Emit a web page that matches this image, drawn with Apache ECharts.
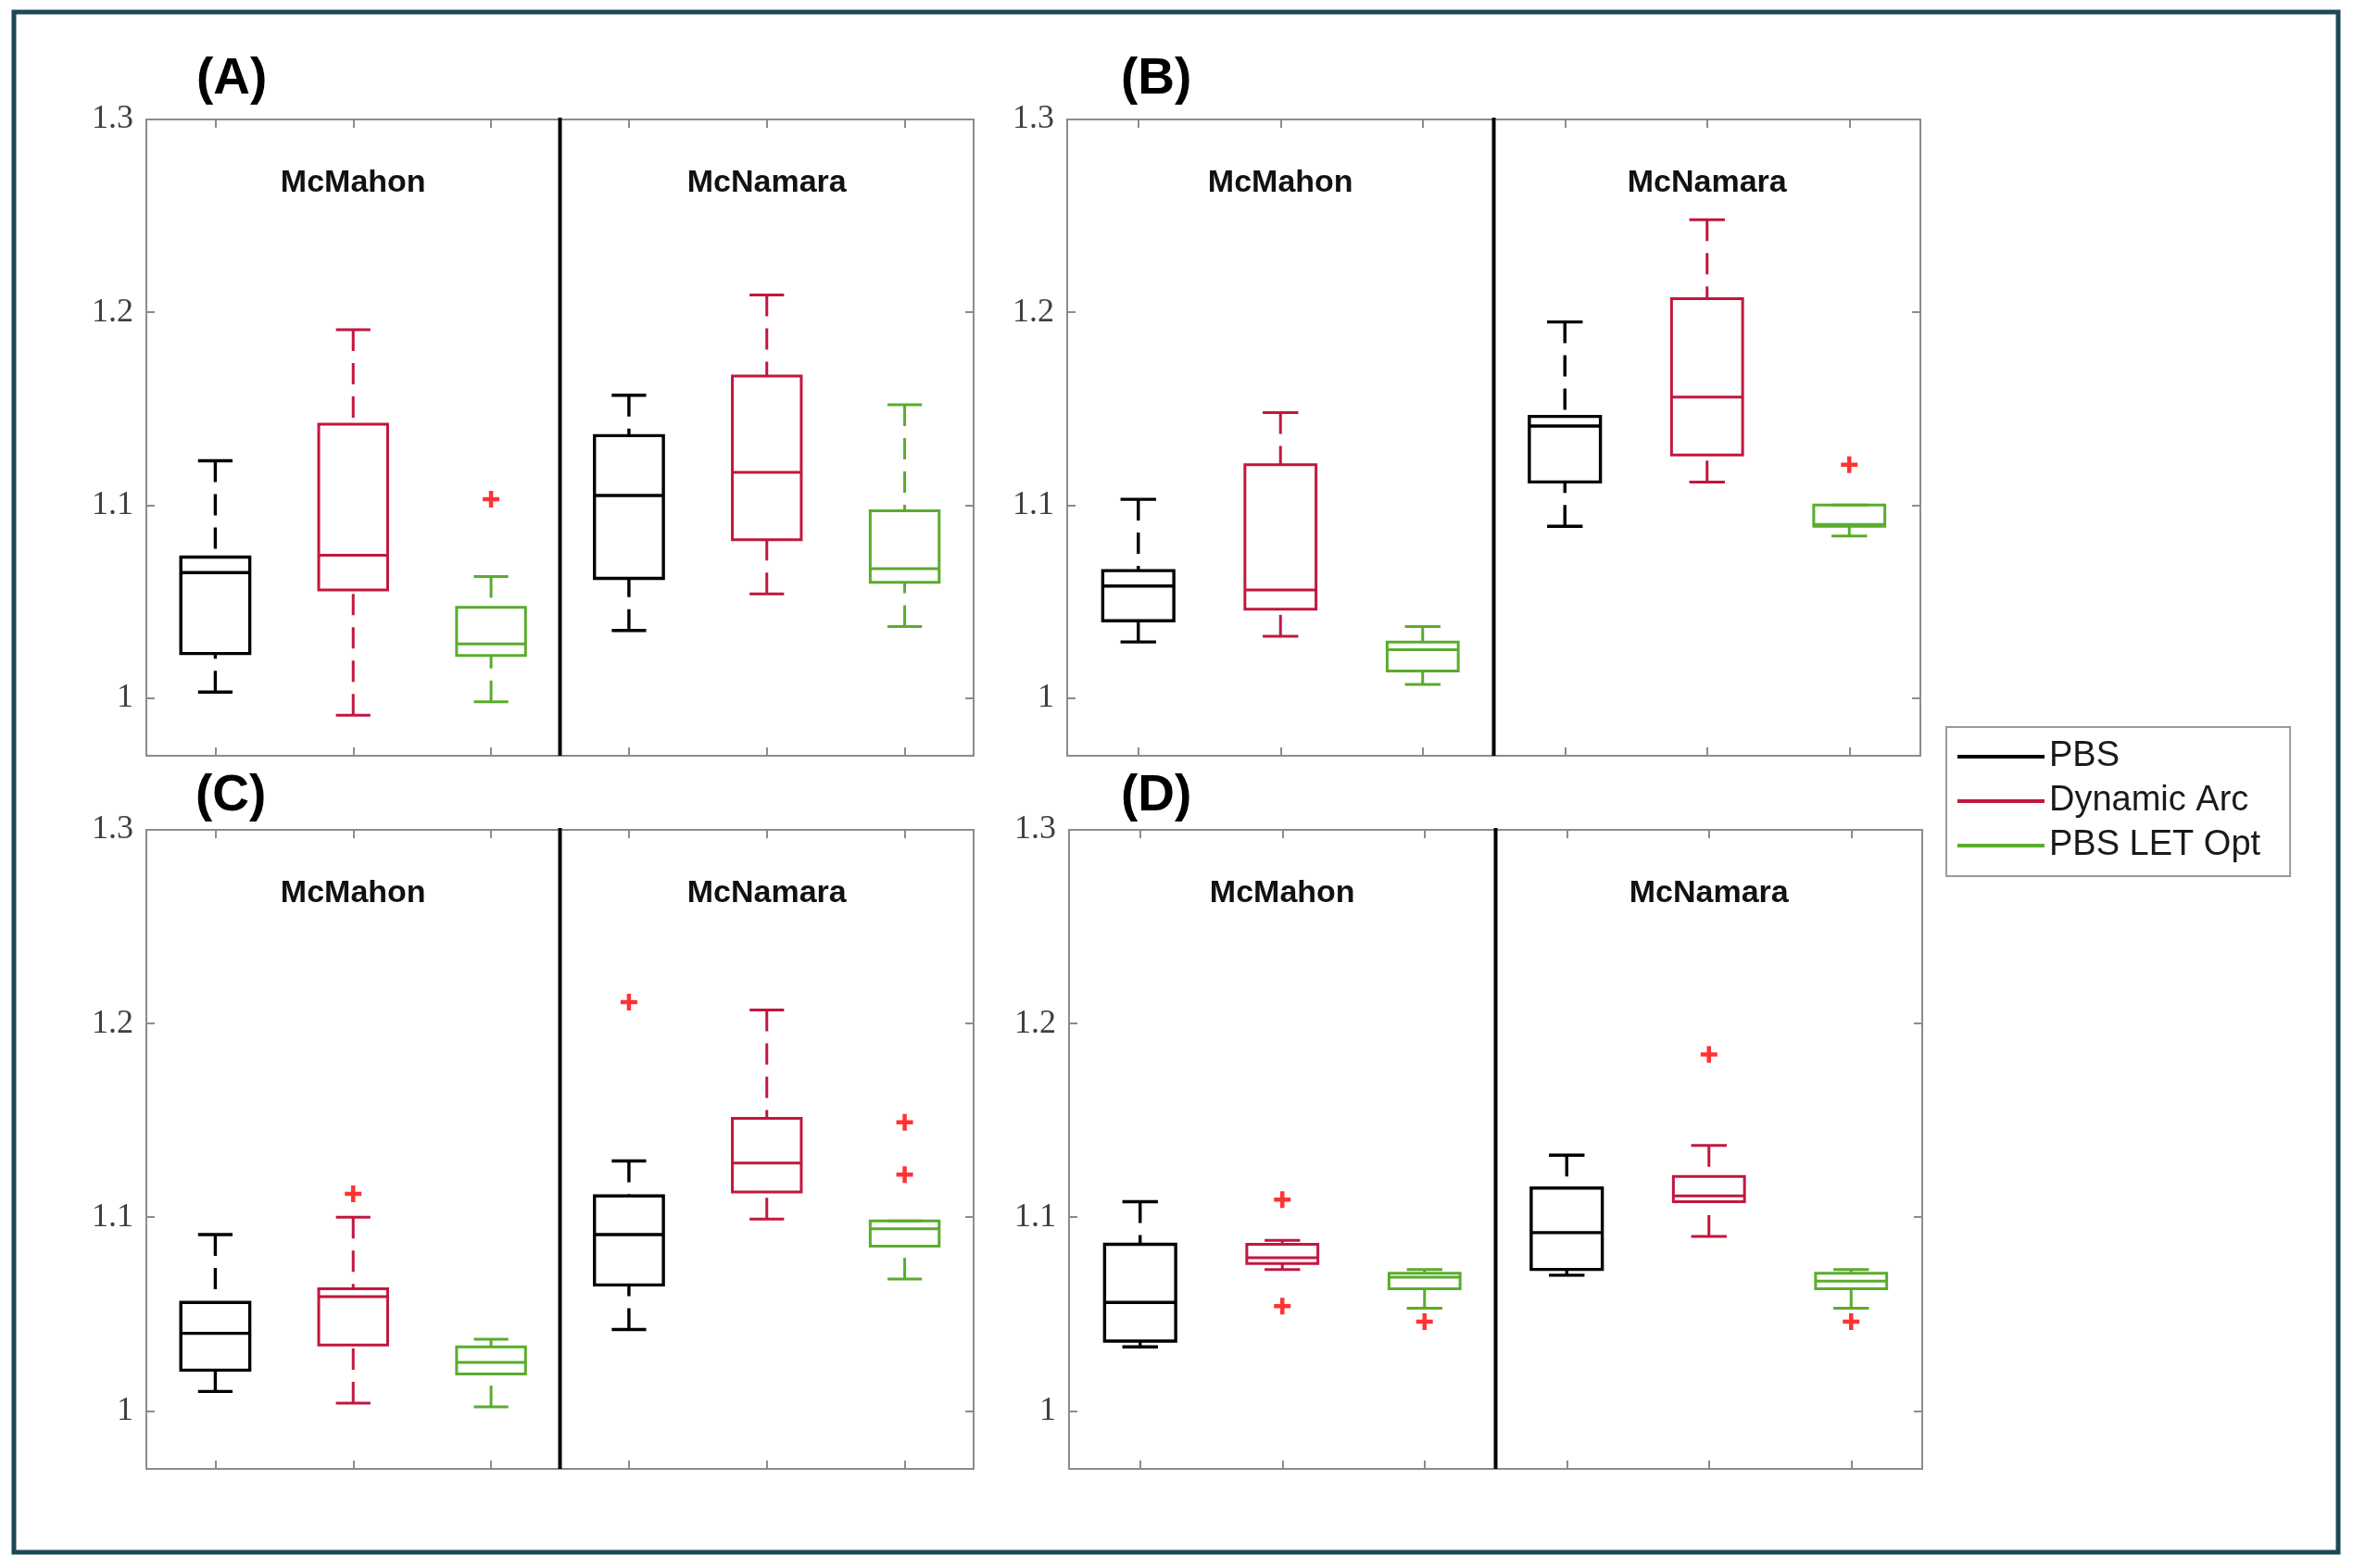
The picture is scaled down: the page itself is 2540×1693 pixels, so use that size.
<!DOCTYPE html>
<html>
<head>
<meta charset="utf-8">
<script src="https://cdn.jsdelivr.net/npm/echarts@6/dist/echarts.min.js"></script>
<style>
html,body{margin:0;padding:0;background:#fff;}
#chart{width:2540px;height:1693px;}
</style>
</head>
<body>
<div id="chart"></div>
<script>
// ---------- DATA ----------
const methods = ['PBS', 'Dynamic Arc', 'PBS LET Opt'];
const sites = ['McMahon', 'McNamara'];
const panelLabels = ['(A)', '(B)', '(C)', '(D)'];
const yTickValues = [1, 1.1, 1.2, 1.3];
const xTickValues = [1, 2, 3, 4, 5, 6];

// box stats [min, q1, median, q3, max]; order: McMahon PBS, DA, LET, McNamara PBS, DA, LET
const boxA = [
  [1.003, 1.023, 1.065, 1.073, 1.123],
  [0.991, 1.056, 1.074, 1.142, 1.191],
  [0.998, 1.022, 1.028, 1.047, 1.063],
  [1.035, 1.062, 1.105, 1.136, 1.157],
  [1.054, 1.082, 1.117, 1.167, 1.209],
  [1.037, 1.060, 1.067, 1.097, 1.152]
];
const outA = [[3, 1.103]];

const boxB = [
  [1.029, 1.040, 1.058, 1.066, 1.103],
  [1.032, 1.046, 1.056, 1.121, 1.148],
  [1.007, 1.014, 1.025, 1.029, 1.037],
  [1.089, 1.112, 1.141, 1.146, 1.195],
  [1.112, 1.126, 1.156, 1.207, 1.248],
  [1.084, 1.089, 1.090, 1.100, 1.100]
];
const outB = [[6, 1.121]];

const boxC = [
  [1.010, 1.021, 1.040, 1.056, 1.091],
  [1.004, 1.034, 1.059, 1.063, 1.100],
  [1.002, 1.019, 1.025, 1.033, 1.037],
  [1.042, 1.065, 1.091, 1.111, 1.129],
  [1.099, 1.113, 1.128, 1.151, 1.207],
  [1.068, 1.085, 1.094, 1.098, 1.098]
];
const outC = [[2, 1.112], [4, 1.211], [6, 1.149], [6, 1.122]];

const boxD = [
  [1.033, 1.036, 1.056, 1.086, 1.108],
  [1.073, 1.076, 1.079, 1.086, 1.088],
  [1.053, 1.063, 1.069, 1.071, 1.073],
  [1.070, 1.073, 1.092, 1.115, 1.132],
  [1.090, 1.108, 1.111, 1.121, 1.137],
  [1.053, 1.063, 1.067, 1.071, 1.073]
];
const outD = [[2, 1.109], [2, 1.054], [3, 1.046], [5, 1.184], [6, 1.046]];

// ---------- STYLE / LAYOUT ----------
const panelBoxes = [boxA, boxB, boxC, boxD];
const panelOutliers = [outA, outB, outC, outD];
const methodColors = ['#000000', '#c1173f', '#5aac2c'];
const methodWidths = [3.4, 3, 3];
const gridRects = [
  {left: 158, top: 129, width: 893, height: 687},
  {left: 1152, top: 129, width: 921, height: 687},
  {left: 158, top: 896, width: 893, height: 690},
  {left: 1154, top: 896, width: 921, height: 690}
];
const labelPos = [[212, 86], [1210, 86], [211, 860], [1210, 860]];
const axisGrey = '#8c8c8c';

const chart = echarts.init(document.getElementById('chart'), null, {renderer: 'canvas'});

const grids = gridRects.map(r => Object.assign({
  show: true, borderColor: axisGrey, borderWidth: 2, backgroundColor: 'transparent', containLabel: false
}, r));

const xAxes = [], yAxes = [];
gridRects.forEach((r, i) => {
  ['bottom', 'top'].forEach(pos => {
    xAxes.push({
      type: 'value', gridIndex: i, position: pos, min: 0.5, max: 6.5,
      axisLine: {show: false},
      axisTick: {show: true, inside: true, length: 9, customValues: xTickValues, lineStyle: {color: axisGrey, width: 2}},
      axisLabel: {show: false},
      splitLine: {show: false}
    });
  });
  ['left', 'right'].forEach(pos => {
    yAxes.push({
      type: 'value', gridIndex: i, position: pos, min: 0.97, max: 1.3,
      axisLine: {show: false},
      axisTick: {show: true, inside: true, length: 9, customValues: yTickValues, lineStyle: {color: axisGrey, width: 2}},
      axisLabel: {
        show: pos === 'left', customValues: yTickValues, margin: 14,
        fontFamily: 'Liberation Serif', fontSize: 36, color: '#404040',
        formatter: v => (Math.abs(v - 1) < 1e-9 ? '1' : v.toFixed(1))
      },
      splitLine: {show: false}
    });
  });
});

function boxRender(color, lw) {
  return function (params, api) {
    const x = api.value(0);
    const lo = api.value(1), q1 = api.value(2), md = api.value(3), q3 = api.value(4), hi = api.value(5);
    const cx = api.coord([x, md])[0];
    const yLo = api.coord([x, lo])[1], yQ1 = api.coord([x, q1])[1], yMd = api.coord([x, md])[1];
    const yQ3 = api.coord([x, q3])[1], yHi = api.coord([x, hi])[1];
    const w = api.size([0.5, 0])[0];
    const cw = api.size([0.25, 0])[0];
    const dash = [23, 13];
    const solid = {stroke: color, lineWidth: lw, fill: null};
    const dashed = {stroke: color, lineWidth: lw, fill: null, lineDash: dash};
    return {
      type: 'group',
      children: [
        {type: 'line', shape: {x1: cx, y1: yHi, x2: cx, y2: yQ3}, style: dashed},
        {type: 'line', shape: {x1: cx, y1: yLo, x2: cx, y2: yQ1}, style: dashed},
        {type: 'line', shape: {x1: cx - cw / 2, y1: yHi, x2: cx + cw / 2, y2: yHi}, style: solid},
        {type: 'line', shape: {x1: cx - cw / 2, y1: yLo, x2: cx + cw / 2, y2: yLo}, style: solid},
        {type: 'rect', shape: {x: cx - w / 2, y: yQ3, width: w, height: yQ1 - yQ3}, style: solid},
        {type: 'line', shape: {x1: cx - w / 2, y1: yMd, x2: cx + w / 2, y2: yMd}, style: solid}
      ]
    };
  };
}

const series = [];
panelBoxes.forEach((boxes, p) => {
  methods.forEach((name, m) => {
    series.push({
      type: 'custom', name: name, xAxisIndex: p * 2, yAxisIndex: p * 2,
      itemStyle: {color: methodColors[m]},
      encode: {x: 0, y: [1, 2, 3, 4, 5]},
      data: [[m + 1].concat(boxes[m]), [m + 4].concat(boxes[m + 3])],
      renderItem: boxRender(methodColors[m], methodWidths[m]),
      silent: true
    });
  });
  // outliers
  series.push({
    type: 'scatter', name: 'Outliers', xAxisIndex: p * 2, yAxisIndex: p * 2,
    symbol: 'path://M6,0h4v16h-4z M0,6h16v4h-16z', symbolSize: 18,
    itemStyle: {color: '#ff0000'}, data: panelOutliers[p], silent: true
  });
  // divider between sites
  series.push({
    type: 'custom', name: 'divider', xAxisIndex: p * 2, yAxisIndex: p * 2,
    data: [[3.5]], silent: true,
    renderItem: function (params, api) {
      const cs = params.coordSys;
      const x = api.coord([3.5, 1])[0];
      return {type: 'line', shape: {x1: x, y1: cs.y - 2, x2: x, y2: cs.y + cs.height}, style: {stroke: '#000', lineWidth: 4}};
    }
  });
  // site labels
  series.push({
    type: 'custom', name: 'sites', xAxisIndex: p * 2, yAxisIndex: p * 2,
    data: [[2], [5]], silent: true,
    renderItem: function (params, api) {
      const pt = api.coord([api.value(0), 1.267]);
      return {type: 'text', x: pt[0], y: pt[1], style: {
        text: sites[params.dataIndex], font: 'bold 34px "Liberation Sans"', fill: '#111',
        align: 'center', verticalAlign: 'middle'
      }};
    }
  });
});

const graphics = [
  {type: 'rect', shape: {x: 15, y: 13, width: 2509, height: 1663}, style: {fill: null, stroke: '#1c4757', lineWidth: 5}, silent: true}
];
panelLabels.forEach((t, i) => {
  graphics.push({type: 'text', x: labelPos[i][0], y: labelPos[i][1], style: {
    text: t, font: 'bold 55px "Liberation Sans"', fill: '#000', align: 'left', verticalAlign: 'middle'
  }, silent: true});
});

chart.setOption({
  backgroundColor: '#ffffff',
  animation: false,
  grid: grids,
  xAxis: xAxes,
  yAxis: yAxes,
  legend: {
    orient: 'vertical', left: 2101, top: 785,
    data: methods.map((n, i) => ({name: n, icon: 'rect', itemStyle: {color: methodColors[i]}})),
    itemWidth: 94, itemHeight: 4, itemGap: 10,
    padding: [13, 32, 14, 12],
    borderColor: '#9a9a9a', borderWidth: 2, backgroundColor: '#fff',
    selectedMode: false,
    textStyle: {fontFamily: 'Liberation Sans', fontSize: 38, color: '#1a1a1a', lineHeight: 38}
  },
  graphic: graphics,
  series: series
});
</script>
</body>
</html>
